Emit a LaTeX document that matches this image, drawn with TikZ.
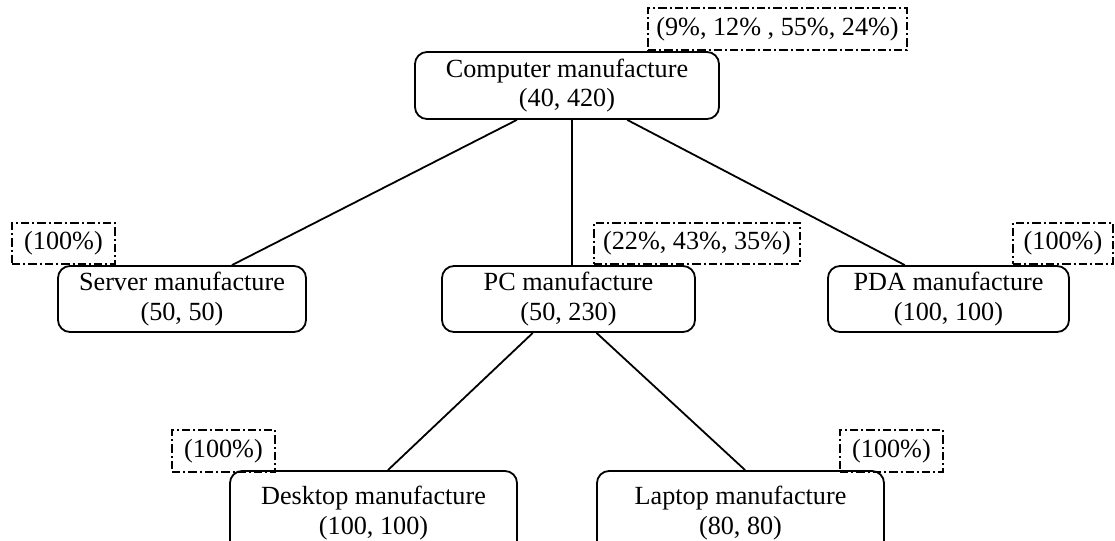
\documentclass[tikz,border=0pt]{standalone}
\usepackage{fontspec}
\setmainfont{Liberation Serif}
\usetikzlibrary{calc}
\tikzset{
  unitbox/.style={draw, line width=0.9pt, rounded corners=6pt, align=center,
    inner sep=0pt, font=\fontsize{13.1}{14.6}\selectfont,
    execute at begin node={\rule{0pt}{13.5pt}}},
  sharebox/.style={draw, line width=0.9pt,
    dash pattern=on 4.2pt off 1.5pt on 1pt off 1.5pt,
    inner sep=0pt, font=\fontsize{13.1}{16}\selectfont},
  link/.style={line width=0.9pt}
}
\begin{document}
\begin{tikzpicture}[x=0.5pt,y=-0.5pt]
\useasboundingbox (0,0) rectangle (1115,541);

% production units
\node[unitbox, minimum width=152pt, minimum height=33.5pt] (comp) at (567,85.5)
  {Computer manufacture\\(40, 420)};
\node[unitbox, minimum width=124pt, minimum height=33pt] (server) at (182,299)
  {Server manufacture\\(50, 50)};
\node[unitbox, minimum width=126.5pt, minimum height=33pt] (pc) at (568.5,299)
  {PC manufacture\\(50, 230)};
\node[unitbox, minimum width=120.5pt, minimum height=33pt] (pda) at (948.5,299)
  {PDA manufacture\\(100, 100)};
\node[unitbox, minimum width=143.5pt, minimum height=42pt] (desk) at (373.5,513)
  {Desktop manufacture\\(100, 100)};
\node[unitbox, minimum width=143.5pt, minimum height=42pt] (lap) at (740.5,513)
  {Laptop manufacture\\(80, 80)};

% capacity shares
\node[sharebox, minimum width=129.5pt, minimum height=21pt] (scomp) at (777.5,29)
  {(9\%, 12\% , 55\%, 24\%)};
\node[sharebox, minimum width=51.5pt, minimum height=20.5pt] (sserver) at (63.5,243.5)
  {(100\%)};
\node[sharebox, minimum width=103pt, minimum height=20.5pt] (spc) at (697,243.5)
  {(22\%, 43\%, 35\%)};
\node[sharebox, minimum width=50pt, minimum height=20.5pt] (spda) at (1063,243.5)
  {(100\%)};
\node[sharebox, minimum width=51.5pt, minimum height=21pt] (sdesk) at (223.5,451)
  {(100\%)};
\node[sharebox, minimum width=51.5pt, minimum height=21pt] (slap) at (891.5,451)
  {(100\%)};

% tree links
\draw[link] ($(comp.south west)!0.336!(comp.south east)$) -- ($(server.north west)!0.70!(server.north east)$);
\draw[link] ($(comp.south west)!0.516!(comp.south east)$) -- ($(pc.north west)!0.514!(pc.north east)$);
\draw[link] ($(comp.south west)!0.697!(comp.south east)$) -- ($(pda.north west)!0.32!(pda.north east)$);
\draw[link] ($(pc.south west)!0.36!(pc.south east)$) -- ($(desk.north west)!0.55!(desk.north east)$);
\draw[link] ($(pc.south west)!0.61!(pc.south east)$) -- ($(lap.north west)!0.516!(lap.north east)$);
\end{tikzpicture}
\end{document}
